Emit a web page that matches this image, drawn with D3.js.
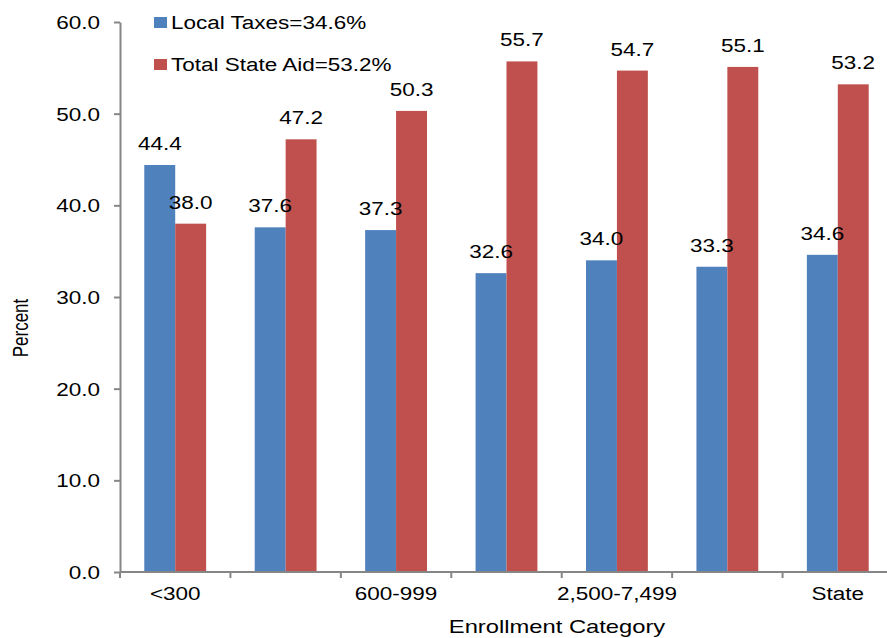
<!DOCTYPE html>
<html>
<head>
<meta charset="utf-8">
<script src="https://cdn.jsdelivr.net/npm/d3@7"></script>
<style>
  body { margin: 0; background: #fff; }
  text { font-family: "Liberation Sans", Arial, sans-serif; fill: #000; }
</style>
</head>
<body>
<svg id="chart"></svg>
<script>
// Data
const categories = ["<300", "300-599", "600-999", "1,000-2,499", "2,500-7,499", "7,500+", "State"];
const localTaxes = [44.4, 37.6, 37.3, 32.6, 34.0, 33.3, 34.6];
const stateAid = [38.0, 47.2, 50.3, 55.7, 54.7, 55.1, 53.2];
const seriesNames = ["Local Taxes=34.6%", "Total State Aid=53.2%"];
const yTicks = [0, 10, 20, 30, 40, 50, 60];

const width = 887, height = 638;
const margin = { top: 22, right: -6, bottom: 66, left: 120 };
const innerWidth = width - margin.left - margin.right;
const innerHeight = height - margin.top - margin.bottom;
const colors = ["#4F81BD", "#C0504D"];
const axisColor = "#868686";
const sx = 1.25; // text in the source is drawn wide

const svg = d3.select("#chart")
    .attr("width", width)
    .attr("height", height);

const innerChart = svg.append("g")
    .attr("transform", `translate(${margin.left},${margin.top})`);

// Scales
const xScale = d3.scaleBand()
    .domain(categories)
    .range([0, innerWidth])
    .paddingInner(0.44)
    .paddingOuter(0.22);

const subScale = d3.scaleBand()
    .domain([0, 1])
    .range([0, xScale.bandwidth()]);

const yScale = d3.scaleLinear()
    .domain([0, 60])
    .range([innerHeight, 0]);

// Bars
const rows = categories.map((c, i) => ({ cat: c, values: [localTaxes[i], stateAid[i]] }));

const groups = innerChart.selectAll("g.group")
    .data(rows)
    .join("g")
    .attr("class", "group")
    .attr("transform", d => `translate(${xScale(d.cat)},0)`);

groups.selectAll("rect")
    .data(d => d.values.map((v, k) => ({ v, k })))
    .join("rect")
    .attr("x", d => subScale(d.k))
    .attr("y", d => yScale(d.v))
    .attr("width", subScale.bandwidth())
    .attr("height", d => innerHeight - yScale(d.v))
    .attr("fill", d => colors[d.k]);

groups.selectAll("text.value")
    .data(d => d.values.map((v, k) => ({ v, k })))
    .join("text")
    .attr("class", "value")
    .attr("transform", d => `translate(${subScale(d.k) + subScale.bandwidth() / 2},${yScale(d.v) - 15}) scale(${sx},1)`)
    .attr("text-anchor", "middle")
    .attr("font-size", 18)
    .text(d => d.v.toFixed(1));

// Left axis
const leftAxis = d3.axisLeft(yScale)
    .tickValues(yTicks)
    .tickFormat(d => d.toFixed(1))
    .tickSizeInner(6)
    .tickSizeOuter(0);
const yAxisG = innerChart.append("g").call(leftAxis);
yAxisG.selectAll("line, path").attr("stroke", axisColor).attr("stroke-width", 2);
yAxisG.selectAll("text")
    .attr("x", null)
    .attr("dy", "0.36em")
    .attr("font-size", 18)
    .attr("transform", `translate(-20,0) scale(${sx},1)`);

// Bottom axis (ticks at category boundaries)
const step = xScale.step();
const x0 = xScale(categories[0]) - step * xScale.paddingOuter();
const bottomG = innerChart.append("g")
    .attr("transform", `translate(0,${innerHeight})`);
bottomG.append("line")
    .attr("x1", 0).attr("x2", innerWidth)
    .attr("stroke", axisColor).attr("stroke-width", 2);
bottomG.selectAll("line.tick")
    .data(d3.range(categories.length + 1))
    .join("line")
    .attr("class", "tick")
    .attr("x1", i => x0 + i * step)
    .attr("x2", i => x0 + i * step)
    .attr("y1", 0).attr("y2", 6)
    .attr("stroke", axisColor).attr("stroke-width", 2);
// only every other category label fits
bottomG.selectAll("text.cat")
    .data(categories.filter((c, i) => i % 2 === 0))
    .join("text")
    .attr("class", "cat")
    .attr("transform", d => `translate(${xScale(d) + xScale.bandwidth() / 2},28) scale(${sx},1)`)
    .attr("text-anchor", "middle")
    .attr("font-size", 18)
    .text(d => d);

// Axis titles
svg.append("text")
    .attr("transform", `translate(28,328) scale(${sx},1) rotate(-90)`)
    .attr("text-anchor", "middle")
    .attr("font-size", 17)
    .text("Percent");

svg.append("text")
    .attr("transform", `translate(557,633) scale(${sx},1)`)
    .attr("text-anchor", "middle")
    .attr("font-size", 19)
    .text("Enrollment Category");

// Legend
const legend = svg.append("g").attr("transform", "translate(154,0)");
seriesNames.forEach((name, i) => {
    const g = legend.append("g").attr("transform", `translate(0,${i * 42})`);
    g.append("rect").attr("width", 13).attr("height", 11).attr("y", 17).attr("fill", colors[i]);
    g.append("text")
        .attr("transform", `translate(17,29) scale(${sx},1)`)
        .attr("font-size", 18)
        .text(name);
});
</script>
</body>
</html>
